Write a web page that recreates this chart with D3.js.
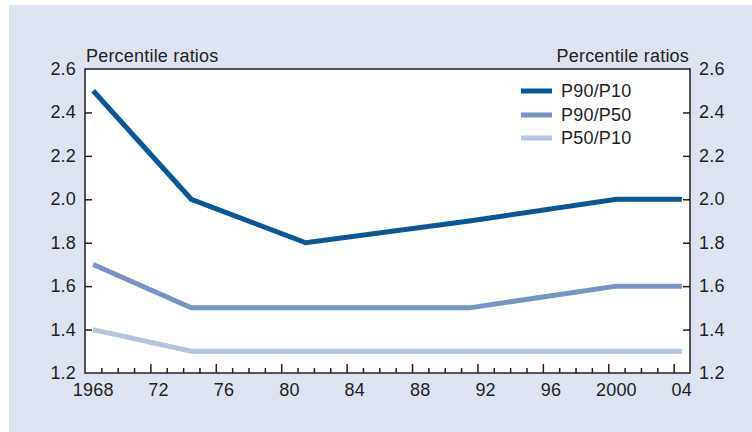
<!DOCTYPE html>
<html>
<head>
<meta charset="utf-8">
<script src="https://cdn.jsdelivr.net/npm/d3@7"></script>
<style>
  html, body { margin: 0; padding: 0; background: #fff; }
  svg { display: block; }
  text { font-family: "Liberation Sans", Arial, sans-serif; fill: #231f20; letter-spacing: 0.2px; }
</style>
</head>
<body>
<svg id="chart" width="752" height="432"></svg>
<script>
// data
const years = [1968, 1974, 1981, 1991, 2000, 2004];
const p90p10 = [2.5, 2.0, 1.8, 1.9, 2.0, 2.0];
const p90p50 = [1.7, 1.5, 1.5, 1.5, 1.6, 1.6];
const p50p10 = [1.4, 1.3, 1.3, 1.3, 1.3, 1.3];
const seriesNames = ["P90/P10", "P90/P50", "P50/P10"];
const seriesColors = ["#0a5797", "#7593c5", "#b3c3e0"];
const yTicks = [1.2, 1.4, 1.6, 1.8, 2.0, 2.2, 2.4, 2.6];
const xTickYears = [1968, 1972, 1976, 1980, 1984, 1988, 1992, 1996, 2000, 2004];
const xTickLabels = ["1968", "72", "76", "80", "84", "88", "92", "96", "2000", "04"];
const axisTitle = "Percentile ratios";

const series = [p90p10, p90p50, p50p10];

const svg = d3.select("#chart");
const W = 752, H = 432;
const m = { left: 85, right: 690, top: 69, bottom: 373 };
const fs = 18;

svg.append("rect").attr("x", 9).attr("y", 5).attr("width", W - 9).attr("height", H - 5)
  .attr("fill", "#dde3f0");
svg.append("rect").attr("x", m.left).attr("y", m.top)
  .attr("width", m.right - m.left).attr("height", m.bottom - m.top).attr("fill", "#fff");

// years are intervals: tick marks at year boundaries, points in the middle
const x = d3.scaleLinear().domain([1968, 2005]).range([m.left, m.right]);
const y = d3.scaleLinear().domain([1.2, 2.6]).range([m.bottom, m.top]);

// lines
const line = d3.line().x(d => x(d[0] + 0.5)).y(d => y(d[1]));
series.forEach((vals, i) => {
  svg.append("path")
    .datum(years.map((yr, j) => [yr, vals[j]]))
    .attr("d", line)
    .attr("fill", "none")
    .attr("stroke", seriesColors[i])
    .attr("stroke-width", 5)
    .attr("stroke-linejoin", "miter");
});

// frame
const ax = "#231f20";
svg.append("rect").attr("x", m.left).attr("y", m.top)
  .attr("width", m.right - m.left).attr("height", m.bottom - m.top)
  .attr("fill", "none").attr("stroke", ax).attr("stroke-width", 1.5);

// y axes, ticks inward
const yInner = yTicks.filter(t => t > 1.2 && t < 2.6);
const fmt = d3.format(".1f");
const yl = svg.append("g").attr("transform", `translate(${m.left},0)`)
  .call(d3.axisRight(y).tickValues(yInner).tickSize(7).tickFormat(""));
const yr = svg.append("g").attr("transform", `translate(${m.right},0)`)
  .call(d3.axisLeft(y).tickValues(yInner).tickSize(7).tickFormat(""));
[yl, yr].forEach(g => {
  g.select(".domain").remove();
  g.selectAll("line").attr("stroke", ax).attr("stroke-width", 1.5);
});
svg.selectAll(".ylab-l").data(yTicks).join("text")
  .attr("x", 76).attr("y", d => y(d) + 6)
  .attr("text-anchor", "end").attr("font-size", fs).text(d => fmt(d));
svg.selectAll(".ylab-r").data(yTicks).join("text")
  .attr("x", 699).attr("y", d => y(d) + 6)
  .attr("text-anchor", "start").attr("font-size", fs).text(d => fmt(d));

// x axis: minor ticks every year, major every 4
const minor = d3.range(1969, 2005).filter(v => (v - 1968) % 4 !== 0);
const major = d3.range(1972, 2005, 4);
const xmin = svg.append("g").attr("transform", `translate(0,${m.bottom})`)
  .call(d3.axisTop(x).tickValues(minor).tickSize(5).tickFormat(""));
const xmaj = svg.append("g").attr("transform", `translate(0,${m.bottom})`)
  .call(d3.axisTop(x).tickValues(major).tickSize(9).tickFormat(""));
[xmin, xmaj].forEach(g => {
  g.select(".domain").remove();
  g.selectAll("line").attr("stroke", ax).attr("stroke-width", 1.5);
});
svg.selectAll(".xlab").data(xTickYears).join("text")
  .attr("x", d => x(d + 0.5)).attr("y", 396)
  .attr("text-anchor", "middle").attr("font-size", fs)
  .text((d, i) => xTickLabels[i]);

// axis titles
svg.append("text").attr("x", 86).attr("y", 62).attr("font-size", fs).text(axisTitle);
svg.append("text").attr("x", 689).attr("y", 62).attr("font-size", fs)
  .attr("text-anchor", "end").text(axisTitle);

// legend
const legY = [91, 115, 138];
seriesNames.forEach((name, i) => {
  svg.append("line").attr("x1", 521).attr("x2", 552)
    .attr("y1", legY[i]).attr("y2", legY[i])
    .attr("stroke", seriesColors[i]).attr("stroke-width", 5);
  svg.append("text").attr("x", 561).attr("y", legY[i] + 6)
    .attr("font-size", fs).text(name);
});
</script>
</body>
</html>
